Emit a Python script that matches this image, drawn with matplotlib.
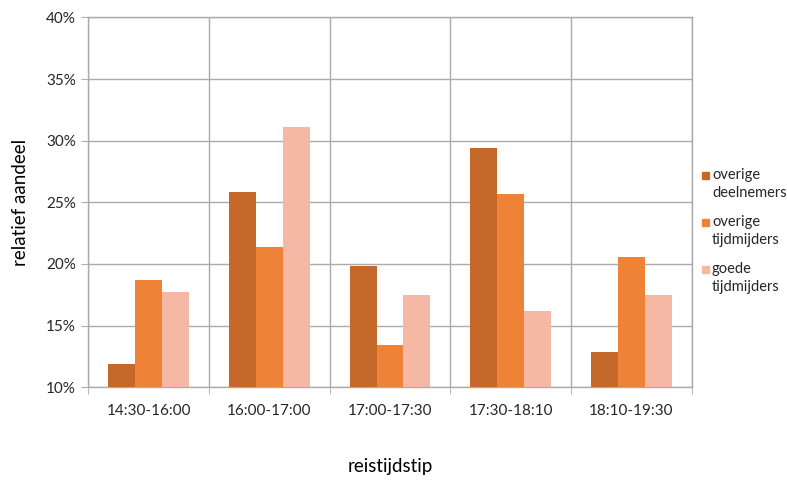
import matplotlib.pyplot as plt
from matplotlib.patches import Rectangle
import numpy as np

plt.rcParams['font.family'] = ['Lato', 'DejaVu Sans']

categories = ['14:30-16:00', '16:00-17:00', '17:00-17:30', '17:30-18:10', '18:10-19:30']
series_names = ['overige\ndeelnemers', 'overige\ntijdmijders', 'goede\ntijdmijders']
overige_deelnemers = [11.9, 25.8, 19.8, 29.4, 12.9]
overige_tijdmijders = [18.7, 21.4, 13.45, 25.7, 20.6]
goede_tijdmijders = [17.7, 31.1, 17.5, 16.2, 17.5]
y_ticks = [10, 15, 20, 25, 30, 35, 40]

colors = ['#C5692A', '#EE8236', '#F4B8A5']
grid_col = '#ABABAB'

W, H = 787, 482
fig = plt.figure(figsize=(W / 100, H / 100), dpi=100)
ax = fig.add_axes([0.1122, 0.1965, 0.7668, 0.7675])

x = np.arange(len(categories))
w = 0.223
for i, vals in enumerate([overige_deelnemers, overige_tijdmijders, goede_tijdmijders]):
    ax.bar(x + (i - 1) * w, np.array(vals) - 10, w, bottom=10, color=colors[i], zorder=3)

ax.set_xlim(-0.5, len(categories) - 0.5)
ax.set_ylim(10, 40)
ax.set_yticks(y_ticks)
ax.set_yticklabels(['%d%%' % t for t in y_ticks], fontsize=11, color='#262626')
ax.set_xticks(x)
ax.set_xticklabels(categories, fontsize=11, color='#262626')
ax.tick_params(axis='x', length=0, pad=12)
ax.tick_params(axis='y', length=5, color=grid_col, pad=4)

# vertical lines between the categories, extending below the axis
bounds = np.arange(len(categories) + 1) - 0.5
ax.set_xticks(bounds, minor=True)
ax.tick_params(axis='x', which='minor', length=5, color=grid_col)
for b in bounds:
    ax.axvline(b, color=grid_col, lw=1, zorder=1)
ax.yaxis.grid(True, color=grid_col, lw=1, zorder=1)
for s in ax.spines.values():
    s.set_color(grid_col)
    s.set_linewidth(1)

ax.set_ylabel('relatief aandeel', fontsize=13.5, color='#000000', labelpad=12)
ax.set_xlabel('reistijdstip', fontsize=13.5, color='#000000', labelpad=29)

# legend: square next to the first line, label wrapped over two lines
for i, name in enumerate(series_names):
    yc = 175 + i * 47
    fig.patches.append(Rectangle((702 / W, 1 - (yc + 3.5) / H), 7 / W, 7 / H,
                                 transform=fig.transFigure, color=colors[i]))
    for j, line in enumerate(name.split('\n')):
        fig.text(712 / W, 1 - (yc + j * 18) / H, line, fontsize=10.5,
                 color='#262626', va='center', ha='left')

fig.savefig('out.png', dpi=100)
